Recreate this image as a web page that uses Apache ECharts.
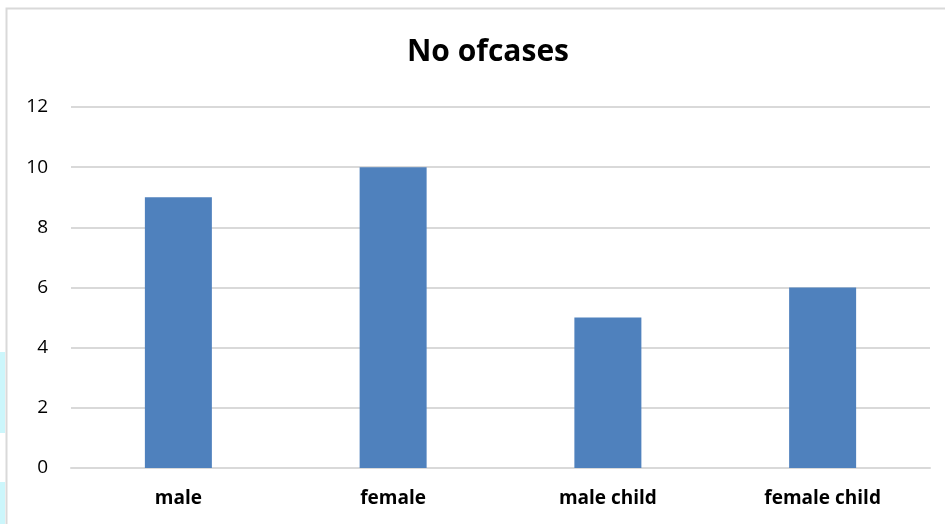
<!DOCTYPE html>
<html>
<head>
<meta charset="utf-8">
<script src="https://cdn.jsdelivr.net/npm/echarts@6/dist/echarts.min.js"></script>
<style>
  html, body { margin: 0; padding: 0; background: #fff; }
  #main { width: 945px; height: 524px; }
</style>
</head>
<body>
<div id="main"></div>
<script>
// data
var categories = ["male", "female", "male child", "female child"];
var cases = [9, 10, 5, 6];
var yTicks = [0, 2, 4, 6, 8, 10, 12];

var chart = echarts.init(document.getElementById("main"));

var option = {
  backgroundColor: "#fff",
  animation: false,
  title: {
    text: "No ofcases",
    left: 483,
    top: 32,
    textAlign: "center",
    textStyle: { fontFamily: "Open Sans", fontWeight: "bold", fontSize: 30, color: "#000" }
  },
  // chart frame and the cyan bits at the left edge
  graphic: [
    { type: "rect", shape: { x: 6.5, y: 8.5, width: 960, height: 540 }, style: { fill: "none", stroke: "#d9d9d9", lineWidth: 2 } },
    { type: "rect", shape: { x: 0, y: 352, width: 5, height: 81 }, style: { fill: "#ccf6fb" } },
    { type: "rect", shape: { x: 0, y: 482, width: 5, height: 42 }, style: { fill: "#ccf6fb" } }
  ],
  grid: { left: 71, right: 15, top: 107, bottom: 56 },
  xAxis: {
    type: "category",
    data: categories,
    axisLine: { lineStyle: { color: "#d9d9d9", width: 2 } },
    axisTick: { show: false },
    axisLabel: {
      margin: 21,
      fontFamily: "Open Sans",
      fontWeight: "bold",
      fontSize: 19,
      color: "#000"
    }
  },
  yAxis: {
    type: "value",
    min: yTicks[0],
    max: yTicks[yTicks.length - 1],
    interval: 2,
    axisLine: { show: false },
    axisTick: { show: false },
    splitLine: { lineStyle: { color: "#d9d9d9", width: 2 } },
    axisLabel: {
      margin: 23,
      fontFamily: "Open Sans",
      fontSize: 19,
      color: "#000"
    }
  },
  series: [
    {
      type: "bar",
      data: cases,
      barWidth: 67,
      itemStyle: { color: "#4f81bd" }
    }
  ]
};

chart.setOption(option);
</script>
</body>
</html>
